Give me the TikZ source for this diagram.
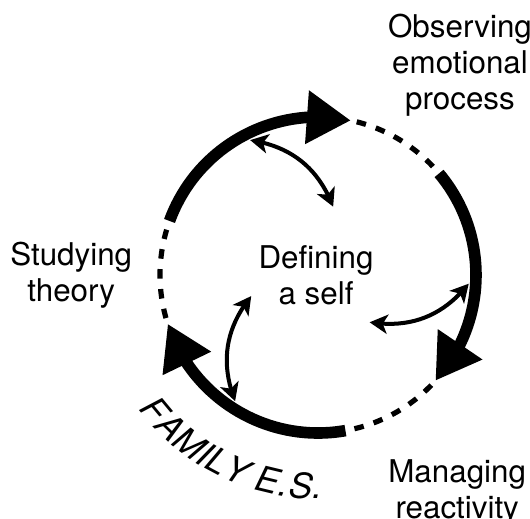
\documentclass[tikz,border=0pt]{standalone}
\usepackage{fontspec}
\setmainfont{TeX Gyre Heros}
\usetikzlibrary{arrows.meta,bending,decorations.text}

\begin{document}
\begin{tikzpicture}[
    stage/.style={align=center, inner sep=0pt, font=\fontsize{22.3}{25.6}\selectfont},
    ring/.style={line width=0.29cm, -{Triangle[length=1.1cm, width=1.27cm]}},
    ringgap/.style={line width=0.13cm, dash pattern=on 0.24cm off 0.26cm, dash phase=0.35cm},
    tie/.style={line width=0.1cm, {Stealth[length=0.45cm, width=0.48cm, inset=0.12cm]}-{Stealth[length=0.45cm, width=0.48cm, inset=0.12cm]}}
  ]
    \useasboundingbox (0,0) rectangle (13.25,12.95);
    \coordinate (c) at (7.95,6.075);

    \node[stage] (observe) at (11.5,11.325) {Observing\\emotional\\process};
    \node[stage] (study) at (1.78,6.08) {Studying\\theory};
    \node[stage] (self) at (7.9,6.08) {Defining\\a self};
    \node[stage] (manage) at (11.43,0.65) {Managing\\reactivity};

    \coordinate (s1) at ([shift={(c)}]160:3.95);
    \coordinate (e1) at ([shift={(c)}]78:3.95);
    \coordinate (s2) at ([shift={(c)}]40:3.95);
    \coordinate (e2) at ([shift={(c)}]-42:3.95);
    \coordinate (s3) at ([shift={(c)}]-80:3.95);
    \coordinate (e3) at ([shift={(c)}]-162:3.95);

    \draw[ring] (s1) arc[start angle=160, end angle=78, radius=3.95];
    \draw[ring] (s2) arc[start angle=40, end angle=-42, radius=3.95];
    \draw[ring] (s3) arc[start angle=-80, end angle=-162, radius=3.95];
    \draw[ringgap] (e1) arc[start angle=78, end angle=40, radius=3.95];
    \draw[ringgap] (e2) arc[start angle=-42, end angle=-80, radius=3.95];
    \draw[ringgap] (e3) arc[start angle=-162, end angle=-200, radius=3.95];

    \coordinate (o1) at ([shift={(c)}]116.7:3.775);
    \coordinate (i1) at ([shift={(c)}]77.5:1.75);
    \coordinate (o2) at ([shift={(c)}]-3.3:3.775);
    \coordinate (i2) at ([shift={(c)}]-42.5:1.75);
    \coordinate (o3) at ([shift={(c)}]236.7:3.775);
    \coordinate (i3) at ([shift={(c)}]197.5:1.75);

    \draw[tie] (o1) to[bend left=30] (i1);
    \draw[tie] (o2) to[bend left=30] (i2);
    \draw[tie] (o3) to[bend left=30] (i3);

    \path[decorate, decoration={text along path, text align={fit to path},
        text={|\itshape\fontsize{25}{29}\selectfont|FAMILY E.S.}}]
      ([shift={(c)}]217:5.6) arc[start angle=217, end angle=271, radius=5.6];
  \end{tikzpicture}
\end{document}
